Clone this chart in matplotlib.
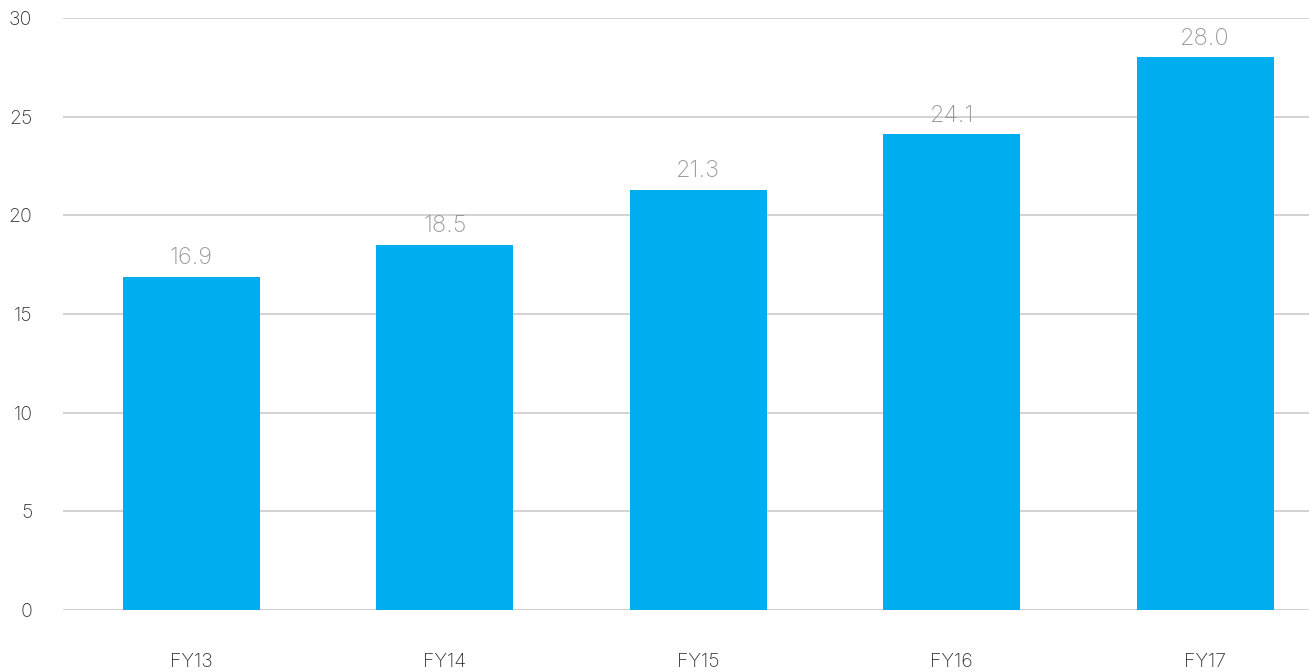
import numpy as np
import matplotlib.pyplot as plt

years = ["FY13", "FY14", "FY15", "FY16", "FY17"]
values = [16.9, 18.5, 21.3, 24.1, 28.0]
y_ticks = [0, 5, 10, 15, 20, 25, 30]

plt.rcParams['font.family'] = ['Inter', 'DejaVu Sans']

fig = plt.figure(figsize=(13.09, 6.72), dpi=100)
ax = fig.add_axes([63 / 1309, 1 - 610 / 672, 1 - 63 / 1309, 592 / 672])

x = np.arange(len(years))
ax.bar(x, values, width=0.54, color="#00AEEF", zorder=3)

for xi, v in zip(x, values):
    ax.text(xi, v + 0.4, f"{v:.1f}", ha="center", va="bottom",
            fontsize=17, color="#999999", fontweight="light")

ax.set_xlim(-0.507, 4.41)
ax.set_ylim(0, 30)
ax.set_yticks(y_ticks)
ax.set_xticks(x)
ax.set_xticklabels(years)
ax.grid(axis="y", color="#cccccc", linewidth=1.2, zorder=0)

for spine in ax.spines.values():
    spine.set_visible(False)

ax.tick_params(axis="y", length=0, pad=22, labelsize=14, labelcolor="#333333")
ax.tick_params(axis="x", length=0, pad=31, labelsize=14, labelcolor="#333333")
for lbl in ax.get_xticklabels() + ax.get_yticklabels():
    lbl.set_fontweight("light")

fig.savefig("out.png", dpi=100)
